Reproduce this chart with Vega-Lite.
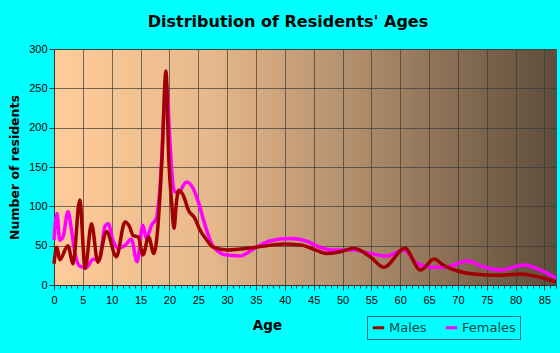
{
  "$schema": "https://vega.github.io/schema/vega-lite/v6.json",
  "autosize": {"type": "none"},
  "width": 502,
  "height": 236,
  "padding": {"left": 54, "top": 49, "right": 4, "bottom": 68},
  "background": "#00ffff",
  "view": {
    "fill": {"gradient": "linear", "x1": 0, "y1": 0, "x2": 1, "y2": 0,
      "stops": [
        {"offset": 0, "color": "#ffcc99"},
        {"offset": 0.3, "color": "#e8b98c"},
        {"offset": 0.6, "color": "#b08e6c"},
        {"offset": 1, "color": "#5e4c3b"}
      ]},
    "stroke": "#555555",
    "strokeWidth": 1
  },
  "title": {
    "text": "Distribution of Residents' Ages",
    "font": "DejaVu Sans",
    "fontSize": 16,
    "fontWeight": "bold",
    "color": "#000000",
    "anchor": "middle",
    "dx": -17,
    "offset": 13
  },
  "datasets": {
    "ages": [
      {"sex": "Males", "age": 0, "n": 27},
      {"sex": "Males", "age": 0.5, "n": 48},
      {"sex": "Males", "age": 1, "n": 32},
      {"sex": "Males", "age": 2.4, "n": 50},
      {"sex": "Males", "age": 3.3, "n": 27},
      {"sex": "Males", "age": 4.46, "n": 108},
      {"sex": "Males", "age": 5.4, "n": 21},
      {"sex": "Males", "age": 6.5, "n": 78},
      {"sex": "Males", "age": 7.6, "n": 29},
      {"sex": "Males", "age": 9.1, "n": 68},
      {"sex": "Males", "age": 10.8, "n": 36},
      {"sex": "Males", "age": 12.3, "n": 80},
      {"sex": "Males", "age": 13.1, "n": 74},
      {"sex": "Males", "age": 13.7, "n": 63},
      {"sex": "Males", "age": 14.6, "n": 61},
      {"sex": "Males", "age": 15.4, "n": 38},
      {"sex": "Males", "age": 16.4, "n": 61},
      {"sex": "Males", "age": 17.3, "n": 40},
      {"sex": "Males", "age": 18.0, "n": 74},
      {"sex": "Males", "age": 18.7, "n": 159},
      {"sex": "Males", "age": 19.4, "n": 272},
      {"sex": "Males", "age": 19.9, "n": 159},
      {"sex": "Males", "age": 20.4, "n": 104},
      {"sex": "Males", "age": 20.8, "n": 72},
      {"sex": "Males", "age": 21.2, "n": 104},
      {"sex": "Males", "age": 21.6, "n": 120},
      {"sex": "Males", "age": 22.4, "n": 114},
      {"sex": "Males", "age": 23.3, "n": 95},
      {"sex": "Males", "age": 24.4, "n": 85},
      {"sex": "Males", "age": 25.3, "n": 70},
      {"sex": "Males", "age": 26.5, "n": 57},
      {"sex": "Males", "age": 27.6, "n": 48},
      {"sex": "Males", "age": 30, "n": 44.5},
      {"sex": "Males", "age": 35, "n": 48},
      {"sex": "Males", "age": 39.8, "n": 52},
      {"sex": "Males", "age": 42.7, "n": 51},
      {"sex": "Males", "age": 45.6, "n": 43.6},
      {"sex": "Males", "age": 47.3, "n": 40},
      {"sex": "Males", "age": 50, "n": 43},
      {"sex": "Males", "age": 51.9, "n": 46.6},
      {"sex": "Males", "age": 54.8, "n": 36},
      {"sex": "Males", "age": 57.2, "n": 22.5},
      {"sex": "Males", "age": 60.8, "n": 46.6},
      {"sex": "Males", "age": 63.5, "n": 19},
      {"sex": "Males", "age": 65.9, "n": 33},
      {"sex": "Males", "age": 67.5, "n": 25},
      {"sex": "Males", "age": 69.9, "n": 17.8},
      {"sex": "Males", "age": 72.7, "n": 14},
      {"sex": "Males", "age": 76.8, "n": 12.3},
      {"sex": "Males", "age": 80.9, "n": 14},
      {"sex": "Males", "age": 83.8, "n": 10.6},
      {"sex": "Males", "age": 87, "n": 4},
      {"sex": "Females", "age": 0, "n": 57},
      {"sex": "Females", "age": 0.52, "n": 91},
      {"sex": "Females", "age": 1.0, "n": 57},
      {"sex": "Females", "age": 1.56, "n": 61},
      {"sex": "Females", "age": 2.43, "n": 93},
      {"sex": "Females", "age": 2.95, "n": 74},
      {"sex": "Females", "age": 3.6, "n": 42},
      {"sex": "Females", "age": 4.46, "n": 24},
      {"sex": "Females", "age": 5.6, "n": 22},
      {"sex": "Females", "age": 6.77, "n": 32.6},
      {"sex": "Females", "age": 7.9, "n": 33},
      {"sex": "Females", "age": 8.8, "n": 74},
      {"sex": "Females", "age": 9.4, "n": 78},
      {"sex": "Females", "age": 10.2, "n": 57},
      {"sex": "Females", "age": 11.1, "n": 47},
      {"sex": "Females", "age": 12.25, "n": 50},
      {"sex": "Females", "age": 13.4, "n": 58},
      {"sex": "Females", "age": 14.4, "n": 29.6},
      {"sex": "Females", "age": 15.4, "n": 76},
      {"sex": "Females", "age": 16.0, "n": 59},
      {"sex": "Females", "age": 16.9, "n": 76},
      {"sex": "Females", "age": 17.75, "n": 85},
      {"sex": "Females", "age": 18.3, "n": 117},
      {"sex": "Females", "age": 19.5, "n": 255},
      {"sex": "Females", "age": 20.05, "n": 188},
      {"sex": "Females", "age": 20.4, "n": 145},
      {"sex": "Females", "age": 20.9, "n": 119},
      {"sex": "Females", "age": 21.5, "n": 117},
      {"sex": "Females", "age": 22.95, "n": 131},
      {"sex": "Females", "age": 24.1, "n": 123},
      {"sex": "Females", "age": 25.25, "n": 100},
      {"sex": "Females", "age": 26.1, "n": 78},
      {"sex": "Females", "age": 27.6, "n": 49},
      {"sex": "Females", "age": 29.9, "n": 38},
      {"sex": "Females", "age": 32.2, "n": 37},
      {"sex": "Females", "age": 35.1, "n": 48},
      {"sex": "Females", "age": 37.4, "n": 56},
      {"sex": "Females", "age": 40.9, "n": 59},
      {"sex": "Females", "age": 43.7, "n": 56},
      {"sex": "Females", "age": 46.1, "n": 48},
      {"sex": "Females", "age": 47.9, "n": 44.5},
      {"sex": "Females", "age": 51.9, "n": 44.5},
      {"sex": "Females", "age": 54.8, "n": 40},
      {"sex": "Females", "age": 57.7, "n": 36.8},
      {"sex": "Females", "age": 60.6, "n": 44.5},
      {"sex": "Females", "age": 62.9, "n": 27.5},
      {"sex": "Females", "age": 65.2, "n": 22.5},
      {"sex": "Females", "age": 68.1, "n": 23},
      {"sex": "Females", "age": 71.6, "n": 30.5},
      {"sex": "Females", "age": 74.5, "n": 23},
      {"sex": "Females", "age": 77.4, "n": 19},
      {"sex": "Females", "age": 81.5, "n": 25.4},
      {"sex": "Females", "age": 84.3, "n": 19},
      {"sex": "Females", "age": 87, "n": 9}
    ]
  },
  "data": {"name": "ages"},
  "encoding": {
    "x": {
      "field": "age", "type": "quantitative",
      "scale": {"domain": [0, 87], "nice": false, "zero": false},
      "axis": {
        "title": "Age",
        "titleFont": "DejaVu Sans", "titleFontSize": 13.5, "titleFontWeight": "bold", "titleColor": "#000000",
        "titleX": 213, "titleY": 44, "titleBaseline": "alphabetic",
        "values": [0,1,2,3,4,5,6,7,8,9,10,11,12,13,14,15,16,17,18,19,20,21,22,23,24,25,26,27,28,29,30,31,32,33,34,35,36,37,38,39,40,41,42,43,44,45,46,47,48,49,50,51,52,53,54,55,56,57,58,59,60,61,62,63,64,65,66,67,68,69,70,71,72,73,74,75,76,77,78,79,80,81,82,83,84,85,86,87],
        "labelExpr": "datum.value % 5 === 0 ? datum.label : ''",
        "labelFont": "Liberation Sans", "labelFontSize": 11, "labelColor": "#000000",
        "labelPadding": 4, "labelOverlap": false, "labelFlush": false,
        "domainColor": "#333333",
        "tickColor": "#333333",
        "tickSize": {"condition": {"test": "datum.value % 5 === 0", "value": 5}, "value": 3},
        "grid": true,
        "gridColor": "#3a3a3a",
        "gridOpacity": {"condition": {"test": "datum.value % 5 === 0 && datum.value > 0", "value": 0.7}, "value": 0}
      }
    },
    "y": {
      "field": "n", "type": "quantitative",
      "scale": {"domain": [0, 300], "nice": false},
      "axis": {
        "title": "Number of residents",
        "titleFont": "DejaVu Sans", "titleFontSize": 12.5, "titleFontWeight": "bold", "titleColor": "#000000",
        "titleX": -40, "titleY": 118, "titleAngle": -90, "titleBaseline": "middle", "titleAlign": "center",
        "values": [0, 50, 100, 150, 200, 250, 300],
        "labelFont": "Liberation Sans", "labelFontSize": 11, "labelColor": "#000000",
        "labelPadding": 2,
        "domainColor": "#333333",
        "tickColor": "#333333", "tickSize": 5,
        "grid": true, "gridColor": "#3a3a3a", "gridOpacity": 0.7
      }
    },
    "color": {
      "field": "sex", "type": "nominal",
      "scale": {"domain": ["Males", "Females"], "range": ["#a00000", "#ff00ff"]},
      "legend": {
        "orient": "none", "legendX": 313, "legendY": 267,
        "direction": "horizontal", "title": null,
        "strokeColor": "#007777", "padding": 4,
        "symbolType": "stroke", "symbolStrokeWidth": 3, "symbolSize": 130,
        "labelOffset": 3,
        "labelFont": "DejaVu Sans", "labelFontSize": 13, "labelColor": "#004444",
        "columnPadding": 12
      }
    }
  },
  "layer": [
    {
      "transform": [{"filter": "datum.sex === 'Females'"}],
      "mark": {"type": "line", "interpolate": "monotone", "strokeWidth": 3.5}
    },
    {
      "transform": [{"filter": "datum.sex === 'Males'"}],
      "mark": {"type": "line", "interpolate": "monotone", "strokeWidth": 3.5}
    }
  ]
}
